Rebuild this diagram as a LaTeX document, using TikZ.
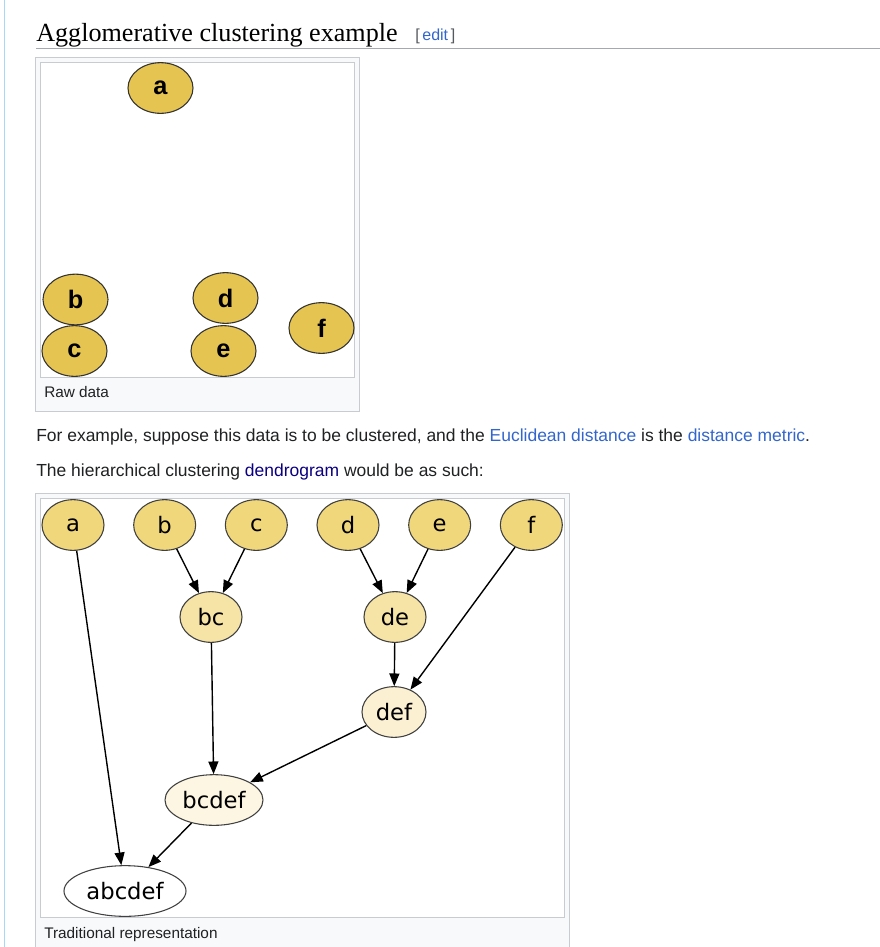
\documentclass[tikz,border=0pt]{standalone}
\usepackage{fontspec}
\setmainfont{Liberation Sans}
\newfontfamily\headfont{Liberation Serif}
\newfontfamily\graphfont{DejaVu Sans}
\usetikzlibrary{
  shapes,       % ellipse
  arrows.meta,  % Triangle tips
  positioning   % right=of ...
}
\definecolor{wikitext}{HTML}{202122}
\definecolor{wikilink}{HTML}{3366CC}
\definecolor{wikivisited}{HTML}{0B0080}
\definecolor{wikigrey}{HTML}{54595D}
\definecolor{wikiframe}{HTML}{C8CCD1}
\definecolor{wikibg}{HTML}{F8F9FA}
\definecolor{wikirule}{HTML}{A2A9B1}
\definecolor{wikiside}{HTML}{A7D7F9}
\definecolor{rawfill}{HTML}{E6C452}
\definecolor{leaffill}{HTML}{F0D77B}
\definecolor{pairfill}{HTML}{F6E3A6}
\definecolor{triplefill}{HTML}{FCF0D2}
\definecolor{fivefill}{HTML}{FDF6E3}
\def\mygap{21.45pt}
\tikzset{
  x=0.75pt,
  y=-0.75pt,
  >={Triangle[length=9.5pt,width=7.5pt]},
  raw point/.style={
    ellipse,
    draw=black!80,
    fill=rawfill,
    line width=0.8pt,
    minimum width=48.75pt,
    minimum height=38pt,
    inner sep=0pt,
    font=\bfseries\fontsize{19}{19}\selectfont
  },
  cluster/.style={
    ellipse,
    draw=black!75,
    line width=0.8pt,
    minimum height=38pt,
    inner sep=0pt,
    font=\graphfont\fontsize{17}{17}\selectfont
  },
  leaf/.style={cluster,fill=leaffill,minimum width=46.5pt},
  pair/.style={cluster,fill=pairfill,minimum width=46.5pt},
  triple/.style={cluster,fill=triplefill,minimum width=48pt},
  five/.style={cluster,fill=fivefill,minimum width=73.5pt},
  all/.style={cluster,fill=white,minimum width=91.5pt},
  link/.style={->,line width=1.05pt,black},
  frame/.style={draw=wikiframe,line width=0.75pt},
  body/.style={anchor=base west,inner sep=0pt,text=wikitext,font=\fontsize{13.1}{15}\selectfont},
  caption/.style={anchor=base west,inner sep=0pt,text=wikitext,font=\fontsize{11.5}{13}\selectfont}
}
\begin{document}
\begin{tikzpicture}
\useasboundingbox[fill=white] (0,0) rectangle (880,947);
\draw[wikiside,line width=0.75pt] (4.5,0) -- (4.5,947);

% heading
\node[anchor=base west,inner sep=0pt,text=black,font=\headfont\fontsize{19.6}{22}\selectfont] (title) at (36,41) {Agglomerative clustering example};
\node[anchor=base west,inner sep=0pt,text=wikigrey,font=\fontsize{12}{14}\selectfont] (edit) at (415,40) {[\,{\color{wikilink}edit}\,]};
\draw[wikirule,line width=0.75pt] (36,48.5) -- (880,48.5);

% raw data figure
\draw[frame,fill=wikibg] (35.5,57.5) rectangle (359.5,411.5);
\draw[frame,fill=white] (40.5,62.5) rectangle (354.5,377.5);
\node[raw point] (ra) at (160.5,88) {a};
\node[raw point] (rb) at (75.5,299.5) {b};
\node[raw point] (rc) at (74.5,351) {c};
\node[raw point] (rd) at (225.5,298) {d};
\node[raw point] (re) at (223.5,351) {e};
\node[raw point] (rf) at (321.5,328) {f};
\node[caption] (cap1) at (44,397) {Raw data};

% text
\node[body] (para1) at (36,441) {For example, suppose this data is to be clustered, and the {\color{wikilink}Euclidean distance} is the {\color{wikilink}distance metric}.};
\node[body] (para2) at (36,476) {The hierarchical clustering {\color{wikivisited}dendrogram} would be as such:};

% dendrogram figure
\draw[frame,fill=wikibg] (35.5,493.5) rectangle (569.5,960);
\draw[frame,fill=white] (40.5,498.5) rectangle (564.5,917.5);
\node[leaf] (a) at (73,525) {a};
\node[leaf,right=\mygap of a] (b) {b};
\node[leaf,right=\mygap of b] (c) {c};
\node[leaf,right=\mygap of c] (d) {d};
\node[leaf,right=\mygap of d] (e) {e};
\node[leaf,right=\mygap of e] (f) {f};
\node[pair] (bc) at (211,617) {bc};
\node[pair] (de) at (395,617) {de};
\node[triple] (def) at (394,712) {def};
\node[five] (bcdef) at (214,800) {bcdef};
\node[all] (abcdef) at (125,891) {abcdef};
\path[link] (b) edge (bc)
            (c) edge (bc)
            (d) edge (de)
            (e) edge (de)
            (de) edge (def)
            (f) edge (def)
            (bc) edge (bcdef)
            (def) edge (bcdef)
            (a) edge (abcdef)
            (bcdef) edge (abcdef);
\node[caption] (cap2) at (44,938) {Traditional representation};
\end{tikzpicture}
\end{document}
